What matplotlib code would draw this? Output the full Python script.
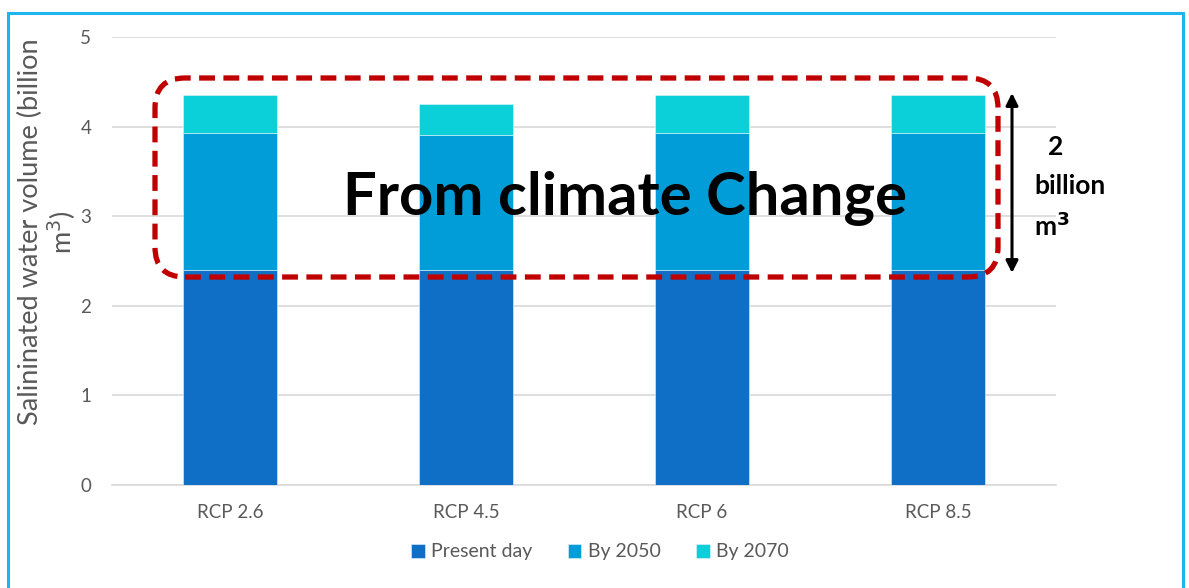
import matplotlib
matplotlib.use("Agg")
import matplotlib.pyplot as plt
from matplotlib.patches import FancyBboxPatch, Rectangle
import numpy as np

plt.rcParams["font.family"] = ["Lato", "DejaVu Sans"]

categories = ["RCP 2.6", "RCP 4.5", "RCP 6", "RCP 8.5"]
present_day = [2.40, 2.40, 2.40, 2.40]
by_2050 = [1.53, 1.51, 1.53, 1.53]
by_2070 = [0.42, 0.34, 0.42, 0.42]
series_names = ["Present day", "By 2050", "By 2070"]
colors = ["#0F6FC6", "#009DD9", "#0BD0D9"]

W, H = 1189, 588
fig = plt.figure(figsize=(W / 100, H / 100), dpi=100)
fig.patch.set_facecolor("white")

def fx(px):
    return px / W

def fy(py):
    return 1 - py / H

ax = fig.add_axes([fx(112), fy(485), fx(1056) - fx(112), fy(37) - fy(485)])
x = np.arange(len(categories))
bottom = np.zeros(len(categories))
for vals, name, c in zip([present_day, by_2050, by_2070], series_names, colors):
    ax.bar(x, vals, width=0.4, bottom=bottom, color=c, label=name,
           edgecolor="#E8F4FB", linewidth=0.4, zorder=3)
    bottom += np.array(vals)

ax.set_xlim(-0.5, len(categories) - 0.5)
ax.set_ylim(0, 5)
ax.set_yticks([0, 1, 2, 3, 4, 5])
ax.set_xticks(x)
ax.set_xticklabels(categories)
ax.yaxis.grid(True, color="#D9D9D9", linewidth=1.2, zorder=0)
for s in ["top", "right", "left"]:
    ax.spines[s].set_visible(False)
ax.spines["bottom"].set_color("#D9D9D9")
ax.spines["bottom"].set_linewidth(1.2)
ax.tick_params(axis="both", length=0, colors="#595959", labelsize=13.5)
ax.tick_params(axis="x", pad=14)
ax.tick_params(axis="y", pad=15)

fig.text(fx(48), fy(232), "Salininated water volume (billion\nm$^3$)",
         rotation=90, ha="center", va="center", multialignment="center",
         fontsize=19.5, color="#595959", linespacing=1.12)

leg = fig.legend(loc="center", bbox_to_anchor=(fx(600), fy(552)), ncol=3,
                 frameon=False, fontsize=14, handlelength=0.7, handleheight=0.7,
                 columnspacing=1.8, handletextpad=0.35)
for t in leg.get_texts():
    t.set_color("#595959")

# outer frame
fig.add_artist(Rectangle((fx(8), fy(600)), fx(1183) - fx(8), fy(13) - fy(600),
                         transform=fig.transFigure, fill=False,
                         edgecolor="#1EB4F0", linewidth=2.2))

# dashed rounded rectangle
box = FancyBboxPatch((155, H - 277), 998 - 155, 277 - 78,
                     boxstyle="round,pad=0,rounding_size=30",
                     transform=None, fill=False, edgecolor="#C00000",
                     linewidth=3.8, linestyle=(0, (3, 1.6)), zorder=10)
fig.add_artist(box)

fig.text(fx(625), fy(198), "From climate Change", ha="center", va="center",
         fontsize=43, fontweight="bold", color="black", zorder=11)

# double arrow
ax.annotate("", xy=(fx(1012), fy(93)), xytext=(fx(1012), fy(273)),
            xycoords="figure fraction", textcoords="figure fraction",
            arrowprops=dict(arrowstyle="<|-|>", color="black", lw=2.2,
                            mutation_scale=18, shrinkA=0, shrinkB=0),
            annotation_clip=False)

fig.text(fx(1056), fy(147), "2", ha="center", va="center", fontsize=19,
         fontweight="bold")
fig.text(fx(1034), fy(186), "billion", ha="left", va="center", fontsize=19,
         fontweight="bold")
fig.text(fx(1034), fy(226), "m$^{\\mathbf{3}}$", ha="left", va="center", fontsize=19,
         fontweight="bold")

fig.savefig("out.png", dpi=100, facecolor="white")
